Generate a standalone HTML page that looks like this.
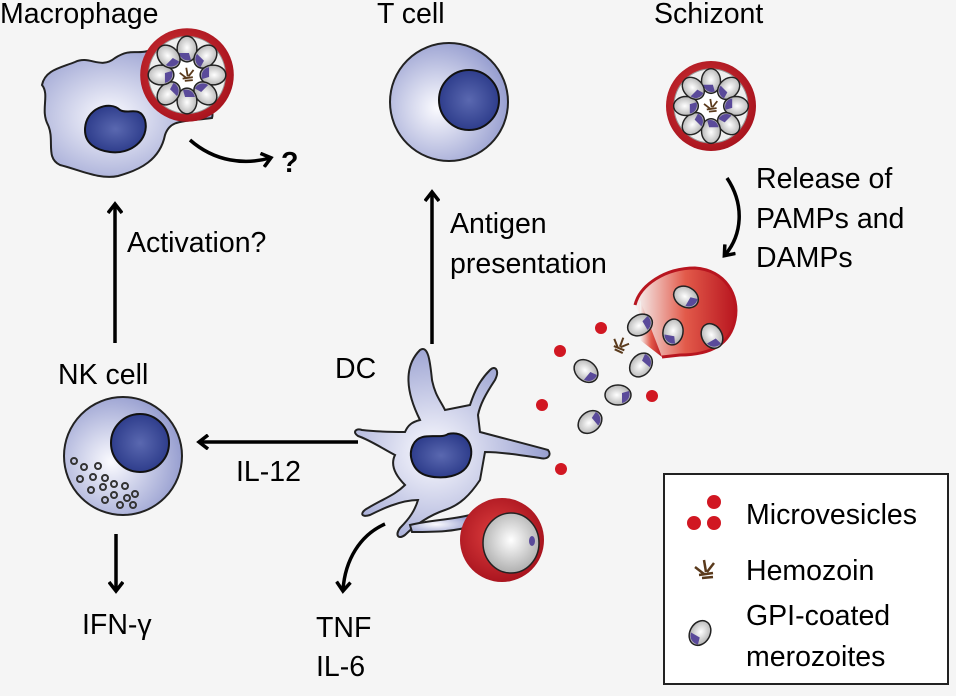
<!DOCTYPE html>
<html><head><meta charset="utf-8"><style>
html,body{margin:0;padding:0;background:#f5f5f5;}
svg{display:block;}
text{font-family:"Liberation Sans",sans-serif;font-size:28.5px;fill:#000;}
</style></head><body>
<svg width="956" height="696" viewBox="0 0 956 696" xmlns="http://www.w3.org/2000/svg">
<defs>
<radialGradient id="cell" cx="40%" cy="55%" r="65%"><stop offset="0" stop-color="#fbfbff"/><stop offset="1" stop-color="#8f97cc"/></radialGradient>
<radialGradient id="nuc" cx="50%" cy="50%" r="60%"><stop offset="0" stop-color="#5a68b0"/><stop offset="1" stop-color="#263585"/></radialGradient>
<radialGradient id="rbc" cx="45%" cy="45%" r="60%"><stop offset="0" stop-color="#e04040"/><stop offset="1" stop-color="#a5111c"/></radialGradient>
<radialGradient id="mero" cx="50%" cy="45%" r="60%"><stop offset="0" stop-color="#ffffff"/><stop offset="1" stop-color="#a8a8a8"/></radialGradient>
<linearGradient id="burst" x1="0" y1="0" x2="1" y2="0"><stop offset="0" stop-color="#f5f5f5"/><stop offset="0.5" stop-color="#e25a4a"/><stop offset="1" stop-color="#b8151f"/></linearGradient>
<g id="mz"><ellipse cx="0" cy="0" rx="10" ry="13" fill="url(#mero)" stroke="#222" stroke-width="1.5"/><path d="M-8,4 A9,9 0 0 0 4,11 L2,4 Z" fill="#5a4a9a"/></g>
<g id="hz" stroke="#5a3a1c" stroke-width="2.5"><line x1="-1" y1="-10" x2="1" y2="2"/><line x1="-10" y1="-3" x2="-1" y2="4"/><line x1="9" y1="-7" x2="2" y2="2"/><line x1="-6" y1="5" x2="8" y2="3"/><line x1="-3" y1="8" x2="8" y2="7"/></g>
<g id="sch">
<circle r="45" fill="url(#rbc)"/>
<circle r="37" fill="#eee" stroke="#999" stroke-width="1"/>
<circle r="14" fill="#fff"/>
<g><use href="#mz" transform="rotate(0) translate(0,-25) scale(0.95)"/><use href="#mz" transform="rotate(45) translate(0,-25) scale(0.95)"/><use href="#mz" transform="rotate(90) translate(0,-25) scale(0.95)"/><use href="#mz" transform="rotate(135) translate(0,-25) scale(0.95)"/><use href="#mz" transform="rotate(180) translate(0,-25) scale(0.95)"/><use href="#mz" transform="rotate(225) translate(0,-25) scale(0.95)"/><use href="#mz" transform="rotate(270) translate(0,-25) scale(0.95)"/><use href="#mz" transform="rotate(315) translate(0,-25) scale(0.95)"/></g>
<use href="#hz" transform="scale(0.7)"/>
</g>
<marker id="ah" markerWidth="14" markerHeight="16" refX="9" refY="8" orient="auto" markerUnits="userSpaceOnUse"><path d="M1,1 L10,8 L1,15" fill="none" stroke="#000" stroke-width="3.5"/></marker>
</defs>

<!-- Macrophage -->
<text x="0" y="23">Macrophage</text>
<path d="M75,62 C90,55 100,70 115,58 C135,45 140,60 160,44 L190,100 C205,105 215,108 212,118 C180,122 170,120 165,135 C160,160 140,170 118,176 C100,180 80,170 60,165 C45,158 55,140 48,125 C40,110 50,95 42,85 C45,70 60,68 75,62 Z" fill="url(#cell)" stroke="#222" stroke-width="2"/>
<path d="M85,130 C85,108 110,100 120,110 C128,115 140,105 145,120 C150,140 130,155 110,152 C95,150 85,143 85,130 Z" fill="url(#nuc)" stroke="#111" stroke-width="2"/>
<g transform="translate(187,75) scale(1.04)"><use href="#sch"/></g>
<path d="M190,140 C215,162 245,165 270,158" fill="none" stroke="#000" stroke-width="3.5" marker-end="url(#ah)"/>
<text x="281" y="172" style="font-weight:bold">?</text>

<!-- T cell -->
<text x="377" y="23">T cell</text>
<circle cx="449" cy="102" r="59" fill="url(#cell)" stroke="#222" stroke-width="2"/>
<circle cx="469" cy="100" r="30" fill="url(#nuc)" stroke="#111" stroke-width="2"/>

<!-- Schizont -->
<text x="654" y="23">Schizont</text>
<g transform="translate(711,106)"><use href="#sch"/></g>
<path d="M727,178 C745,205 742,235 725,255" fill="none" stroke="#000" stroke-width="3.5" marker-end="url(#ah)"/>
<text x="756" y="188">Release of</text>
<text x="756" y="228">PAMPs and</text>
<text x="756" y="267">DAMPs</text>

<!-- Arrows -->
<line x1="115" y1="343" x2="115" y2="205" stroke="#000" stroke-width="3.5" marker-end="url(#ah)"/>
<text x="127" y="252">Activation?</text>
<line x1="432" y1="344" x2="432" y2="193" stroke="#000" stroke-width="3.5" marker-end="url(#ah)"/>
<text x="450" y="233">Antigen</text>
<text x="450" y="273">presentation</text>
<line x1="358" y1="442" x2="200" y2="442" stroke="#000" stroke-width="3.5" marker-end="url(#ah)"/>
<text x="236" y="481">IL-12</text>

<!-- NK -->
<text x="58" y="384">NK cell</text>
<circle cx="123" cy="456" r="59" fill="url(#cell)" stroke="#222" stroke-width="2"/>
<circle cx="140" cy="443" r="29" fill="url(#nuc)" stroke="#111" stroke-width="2"/>
<g fill="none" stroke="#333" stroke-width="2">
<circle cx="74" cy="461" r="3"/><circle cx="84" cy="467" r="3"/><circle cx="98" cy="466" r="3"/><circle cx="80" cy="479" r="3"/><circle cx="93" cy="477" r="3"/><circle cx="105" cy="478" r="3"/><circle cx="91" cy="490" r="3"/><circle cx="103" cy="487" r="3"/><circle cx="114" cy="484" r="3"/><circle cx="125" cy="486" r="3"/><circle cx="114" cy="495" r="3"/><circle cx="127" cy="498" r="3"/><circle cx="135" cy="494" r="3"/><circle cx="105" cy="500" r="3"/><circle cx="120" cy="505" r="3"/><circle cx="133" cy="505" r="3"/>
</g>
<line x1="116" y1="534" x2="116" y2="590" stroke="#000" stroke-width="3.5" marker-end="url(#ah)"/>
<text x="82" y="634">IFN-γ</text>

<!-- DC -->
<g fill="url(#cell)" stroke="#222" stroke-width="2">
<path d="M420,420 C400,380 410,360 420,350 C428,345 430,360 432,380 C435,395 440,400 445,410 L470,405 C475,390 480,380 490,370 C495,365 500,370 495,380 C485,395 480,405 478,415 L480,432 C510,440 530,445 548,450 C552,455 548,460 540,458 C520,455 500,452 485,452 L480,480 C470,495 460,505 445,510 C430,515 415,525 405,535 C398,540 395,535 400,528 C410,518 415,510 418,500 C400,500 380,510 370,515 C360,518 360,512 368,508 C385,498 395,495 405,485 C395,475 390,465 395,455 C385,450 370,440 358,436 C352,432 356,428 362,430 C380,432 395,432 405,432 C408,425 412,422 420,420 Z"/>
<path d="M410,525 C430,520 450,520 470,515 L475,525 C455,532 435,532 412,532 Z"/>
</g>
<text x="335" y="378">DC</text>
<path d="M413,445 C420,430 440,440 448,434 C465,430 475,445 470,460 C465,478 440,480 425,475 C412,470 408,455 413,445 Z" fill="url(#nuc)" stroke="#111" stroke-width="2"/>
<circle cx="502" cy="540" r="42" fill="url(#rbc)"/>
<ellipse cx="511" cy="543" rx="28" ry="30" fill="url(#mero)" stroke="#222" stroke-width="1.5"/>
<ellipse cx="532" cy="541" rx="3" ry="5" fill="#5a4a9a"/>
<path d="M385,524 C360,535 345,560 343,590" fill="none" stroke="#000" stroke-width="3.5" marker-end="url(#ah)"/>
<text x="316" y="637">TNF</text>
<text x="316" y="676">IL-6</text>

<!-- burst RBC -->
<path d="M635,305 C640,285 665,268 695,268 C725,270 740,295 735,320 C730,345 710,355 680,355 L662,357" fill="url(#burst)" stroke="#b8151f" stroke-width="3"/>
<path d="M640,300 L640,340 L662,357" fill="url(#burst)" stroke="none"/>
<use href="#mz" transform="translate(686,297) rotate(-60)"/>
<use href="#mz" transform="translate(673,332) rotate(10)"/>
<use href="#mz" transform="translate(712,336) rotate(-30)"/>
<use href="#mz" transform="translate(640,325) rotate(-120)"/>
<use href="#mz" transform="translate(641,365) rotate(-140)"/>
<use href="#mz" transform="translate(586,371) rotate(-50)"/>
<use href="#mz" transform="translate(618,395) rotate(-90)"/>
<use href="#mz" transform="translate(590,422) rotate(-130)"/>
<use href="#hz" transform="translate(620,345) rotate(30) scale(0.8)"/>
<g fill="#d11722"><circle cx="601" cy="328" r="6"/><circle cx="560" cy="351" r="6"/><circle cx="542" cy="405" r="6"/><circle cx="652" cy="396" r="6"/><circle cx="561" cy="469" r="6"/></g>

<!-- Legend -->
<rect x="664" y="474" width="284" height="210" fill="#fff" stroke="#222" stroke-width="2"/>
<g fill="#d11722"><circle cx="714" cy="502" r="7"/><circle cx="694" cy="523" r="7"/><circle cx="714" cy="523" r="7"/></g>
<text x="746" y="524">Microvesicles</text>
<use href="#hz" transform="translate(705,570)"/>
<text x="746" y="580">Hemozoin</text>
<use href="#mz" transform="translate(700,633) rotate(30)"/>
<text x="746" y="625">GPI-coated</text>
<text x="746" y="666">merozoites</text>
</svg>
</body></html>
